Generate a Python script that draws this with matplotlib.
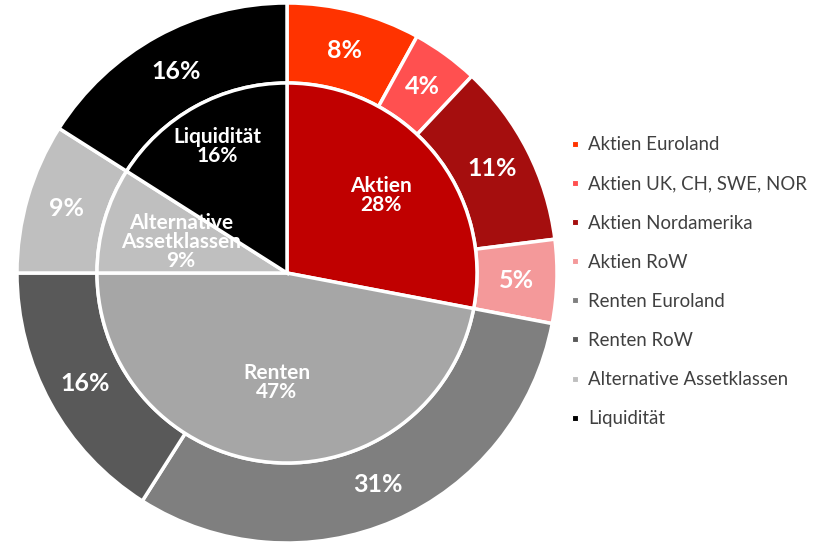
import matplotlib.pyplot as plt
import numpy as np

plt.rcParams['font.family'] = ['Lato', 'DejaVu Sans']

# outer ring
outer_labels = ['Aktien Euroland', 'Aktien UK, CH, SWE, NOR', 'Aktien Nordamerika',
                'Aktien RoW', 'Renten Euroland', 'Renten RoW',
                'Alternative Assetklassen', 'Liquidität']
outer_values = [8, 4, 11, 5, 31, 16, 9, 16]
outer_colors = ['#ff3300', '#ff5050', '#a50e0e', '#f4999a',
                '#7f7f7f', '#595959', '#bfbfbf', '#000000']

# inner pie
inner_labels = ['Aktien', 'Renten', 'Alternative\nAssetklassen', 'Liquidität']
inner_values = [28, 47, 9, 16]
inner_colors = ['#c00000', '#a6a6a6', '#bfbfbf', '#000000']
inner_label_r = [0.64, 0.58, 0.58, 0.76]

cx, cy = 287, 272
R_out, R_in = 270, 190

fig = plt.figure(figsize=(8.23, 5.45), dpi=100)
ax = fig.add_axes([0, 0, 1, 1])

wo, _ = ax.pie(outer_values, colors=outer_colors, radius=R_out, center=(cx, cy),
               startangle=90, counterclock=False,
               wedgeprops=dict(width=R_out - R_in, edgecolor='white', linewidth=2.5))
wi, _ = ax.pie(inner_values, colors=inner_colors, radius=R_in, center=(cx, cy),
               startangle=90, counterclock=False,
               wedgeprops=dict(edgecolor='white', linewidth=2.5))

for w, v in zip(wo, outer_values):
    a = np.deg2rad((w.theta1 + w.theta2) / 2)
    r = (R_out + R_in) / 2
    ax.text(cx + r * np.cos(a), cy + r * np.sin(a), f'{v}%', ha='center', va='center',
            color='white', fontsize=18, fontweight='bold')

for w, v, lab, rr in zip(wi, inner_values, inner_labels, inner_label_r):
    a = np.deg2rad((w.theta1 + w.theta2) / 2)
    r = rr * R_in
    ax.text(cx + r * np.cos(a), cy + r * np.sin(a), f'{lab}\n{v}%', ha='center', va='center',
            color='white', fontsize=15, fontweight='bold', linespacing=0.95)

handles = [plt.Line2D([], [], marker='s', linestyle='none', markersize=5,
                      markerfacecolor=c, markeredgecolor='white', markeredgewidth=0.8)
           for c in outer_colors]
leg = ax.legend(handles, outer_labels, loc='center left', bbox_to_anchor=(560 / 823, 0.483),
                frameon=False, fontsize=13.4, labelspacing=1.19, handletextpad=0.3,
                handlelength=0.8, borderaxespad=0)
for t in leg.get_texts():
    t.set_color('#404040')

ax.set_xlim(0, 823)
ax.set_ylim(0, 545)
ax.set_aspect('equal')
ax.axis('off')

fig.savefig('out.png', dpi=100)
